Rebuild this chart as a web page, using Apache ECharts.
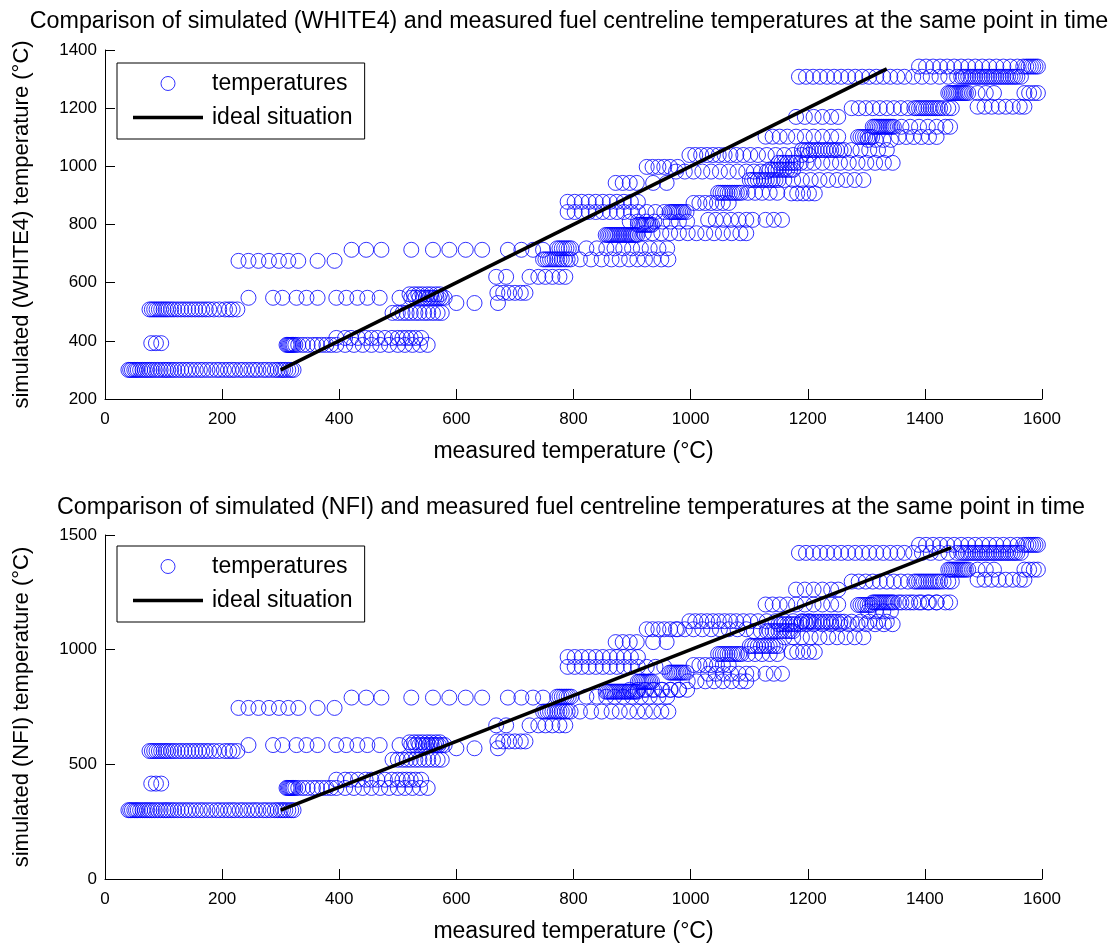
<!DOCTYPE html>
<html lang="en">
<head>
<meta charset="UTF-8">
<title>Simulated vs measured fuel centreline temperatures</title>
<script src="https://cdn.jsdelivr.net/npm/echarts@6/dist/echarts.min.js"></script>
<style>html,body{margin:0;padding:0;background:#fff}</style>
</head>
<body>
<div id="main" style="width:1116px;height:944px"></div>
<script>
// measured temperatures (x), grouped so that each group shares one simulated value
var measuredGroups = [
    [40,43,46,50,53,56,60,64,68,72,76,80,85,90,95,100,104,108,113,118,124,130,136,142,148,155,162,168,175,182,190,196,203,210,216,222,230,236,243,250,256,262,270,276,283,290,295,300,304,308,313,318,322],
    [79,87,96],
    [76,80,84,88,92,96,100,104,108,113,118,124,130,136,142,148,154,160,166,172,178,186,195,205,212,218,226],
    [245,287,303,327,344,363,395,412,431,448,469,503,523,530,537,543,548,553,558,562,566,570,575,580],
    [520,528,535,542,550,557,565,572],
    [491,500,508,515,522,530,537,545,552,560,568,575],
    [310,312,314,316,318,320,322,325,330,338,346,355,362,370,378,386,395,410,425,440,455,470,485,500,512,525,538,551],
    [395,410,420,432,445,455,465,478,490,500,508,515,522,530,540],
    [228,245,262,280,297,313,330,363,392],
    [421,446,472,523,560,588,616,644,688,711,731,748],
    [772,776,780,784,788,792,796,822,840,856,870,885,900,915,930,945,960],
    [748,752,756,760,764,768,772,776,780,785,790,795,811,830,848,865,879,895,909,922,936,950,962],
    [668,685,725,740,752,764,776,786],
    [670,680,690,700,710,718],
    [600,631,671],
    [790,802,814,826,838,850,862,874,886,898,910],
    [790,802,814,826,838,850,862,874,886,898,910,925,940,955],
    [964,967,970,973,976,979,982,985,988,993],
    [1005,1015,1025,1035,1045,1055,1065],
    [872,884,896,908,936,959],
    [925,935,945,955,965,978],
    [975,990,1005,1020,1035,1050,1065,1080,1095],
    [1108,1120,1130],
    [998,1008,1018,1028,1038,1048,1058,1068,1078,1090,1102,1115,1130,1145,1160,1175,1190,1202],
    [1128,1140,1152,1165,1180,1195,1210,1225,1240,1252],
    [1190,1195,1200,1205,1210,1215,1220,1225,1230,1235,1240,1245,1250,1256,1262,1275,1290,1305,1320,1335],
    [1135,1140,1145,1150,1155,1160,1165,1170,1175],
    [1101,1105,1110,1115,1120,1125,1130,1135,1140,1145,1150],
    [1160,1175,1190,1205,1220,1235,1250,1265,1280,1295],
    [1150,1155,1160,1165,1170,1175,1180,1188,1198,1210,1225,1240,1255,1270,1285,1300,1315,1330,1345],
    [1047,1051,1055,1059,1063,1067,1071,1075,1079,1083,1087,1098,1110,1122,1135,1148],
    [1172,1182,1192,1202,1212],
    [1030,1043,1056,1069,1082,1095,1106,1128,1142,1156],
    [896,910,924,938,952,966,980,994],
    [910,913,916,919,922,925,928,931,934],
    [920,935,950,965,980],
    [995,1010,1025,1040,1055,1070,1085,1095],
    [855,858,861,864,867,870,873,876,879,882,885,888,891,894,897,900,903,906,909],
    [1185,1197,1209,1221,1233,1245,1257,1269,1281,1293,1305,1317,1329,1341,1353,1365,1380,1395,1410,1425,1440,1455,1462,1466,1470,1474,1478,1482,1486,1490,1494,1498,1502,1506,1510,1514,1518,1522,1526,1530,1534,1538,1542,1546,1550,1554,1558,1564],
    [1390,1402,1414,1426,1438,1450,1462,1474,1486,1498,1510,1522,1534,1546,1558,1568,1573,1577,1581,1585,1589,1593],
    [1440,1443,1446,1449,1452,1455,1458,1461,1464,1467,1470,1474,1490,1504,1518,1570,1578,1586,1593],
    [1490,1502,1514,1526,1538,1550,1562,1570],
    [1275,1287,1299,1311,1323,1335,1347,1359,1371,1382,1386,1390,1394,1398,1402,1406,1410,1414,1418,1422,1426,1432,1440,1446],
    [1180,1195,1210,1225,1240,1252],
    [1311,1314,1317,1320,1323,1326,1329,1332,1335,1338,1341,1344,1347,1360,1375,1390,1405,1420,1435,1443],
    [1286,1290,1294,1298,1302,1306,1310],
    [1355,1368,1381,1394,1407,1420],
    [1303,1316,1329,1342]
];
// simulated value of each group, WHITE4 model
var white4Levels = [300,392,508,548,560,496,386,410,675,713,718,680,620,565,530,878,843,843,874,943,998,982,982,1039,1102,1056,988,953,953,1012,909,907,816,810,799,770,770,764,1308,1343,1252,1205,1200,1170,1136,1101,1101,1091];
// simulated value of each group, NFI model
var nfiLevels = [300,416,558,584,596,520,397,433,746,791,795,730,670,600,570,968,925,900,933,1033,1089,1089,1081,1124,1197,1122,1081,1016,1054,1111,981,990,895,825,860,825,862,817,1422,1457,1349,1305,1297,1262,1206,1195,1206,1167];
// ends of the ideal (simulated = measured) line
var white4Ideal = [300, 1335];
var nfiIdeal = [300, 1445];

function points(levels) {
    var out = [];
    for (var i = 0; i < measuredGroups.length; i++) {
        for (var j = 0; j < measuredGroups[i].length; j++) {
            out.push([measuredGroups[i][j], levels[i]]);
        }
    }
    return out;
}

var font = '"Liberation Sans", Arial, sans-serif';
var chart = echarts.init(document.getElementById('main'));

function plain(v) { return String(v); }

function xAxis(idx) {
    return {
        type: 'value', gridIndex: idx, min: 0, max: 1600, interval: 200,
        name: 'measured temperature (°C)', nameLocation: 'middle', nameGap: 41,
        nameTextStyle: {fontSize: 23, color: '#000', fontFamily: font},
        axisLine: {show: true, onZero: false, lineStyle: {color: '#000', width: 1}},
        axisTick: {show: true, inside: true, length: 10, lineStyle: {color: '#000'}},
        axisLabel: {color: '#000', fontSize: 17, fontFamily: font, margin: 12, formatter: plain, showMinLabel: true, showMaxLabel: true},
        splitLine: {show: false}
    };
}
function yAxis(idx, name, min, max, step) {
    return {
        type: 'value', gridIndex: idx, min: min, max: max, interval: step,
        name: name, nameLocation: 'middle', nameGap: 72,
        nameTextStyle: {fontSize: 22, color: '#000', fontFamily: font},
        axisLine: {show: true, onZero: false, lineStyle: {color: '#000', width: 1}},
        axisTick: {show: true, inside: true, length: 10, lineStyle: {color: '#000'}},
        axisLabel: {color: '#000', fontSize: 17, fontFamily: font, margin: 8, formatter: plain, showMinLabel: true, showMaxLabel: true},
        splitLine: {show: false}
    };
}
function legend(top) {
    return {
        left: 117, top: top, orient: 'vertical',
        borderColor: '#000', borderWidth: 1, borderRadius: 0,
        padding: [9, 12, 10, 16], itemGap: 11, itemWidth: 70, itemHeight: 14,
        textStyle: {fontSize: 23, color: '#000', fontFamily: font, padding: [0, 0, 0, 4]},
        selectedMode: false,
        data: [
            {name: 'temperatures', icon: 'circle', itemStyle: {color: 'rgba(0,0,0,0)', borderColor: '#0000ff', borderWidth: 1}},
            {name: 'ideal situation', icon: 'path://M0,0L70,0L70,3.5L0,3.5Z', itemStyle: {color: '#000', borderWidth: 0}}
        ]
    };
}
function scatter(idx, levels) {
    return {
        name: 'temperatures', type: 'scatter', xAxisIndex: idx, yAxisIndex: idx,
        data: points(levels), symbol: 'circle', symbolSize: 15, silent: true,
        itemStyle: {color: 'rgba(0,0,0,0)', borderColor: '#0000ff', borderWidth: 1}
    };
}
function ideal(idx, ends) {
    return {
        name: 'ideal situation', type: 'line', xAxisIndex: idx, yAxisIndex: idx,
        data: [[ends[0], ends[0]], [ends[1], ends[1]]], symbol: 'none', showSymbol: false, silent: true, z: 3,
        color: '#000', lineStyle: {color: '#000', width: 3.5}
    };
}

var option = {
    animation: false,
    backgroundColor: '#fff',
    title: [{
        text: 'Comparison of simulated (WHITE4) and measured fuel centreline temperatures at the same point in time',
        left: 569, top: 10, textAlign: 'center', padding: 0,
        textStyle: {fontSize: 23.3, fontWeight: 'normal', color: '#000', fontFamily: font}
    }, {
        text: 'Comparison of simulated (NFI) and measured fuel centreline temperatures at the same point in time',
        left: 571, top: 496, textAlign: 'center', padding: 0,
        textStyle: {fontSize: 23.3, fontWeight: 'normal', color: '#000', fontFamily: font}
    }],
    legend: [legend(63), legend(546)],
    grid: [
        {left: 105, top: 50, width: 937, height: 349},
        {left: 105, top: 535, width: 937, height: 347}
    ],
    xAxis: [xAxis(0), xAxis(1)],
    yAxis: [
        yAxis(0, 'simulated (WHITE4) temperature (°C)', 200, 1400, 200),
        yAxis(1, 'simulated (NFI) temperature (°C)', 0, 1500, 500)
    ],
    series: [
        scatter(0, white4Levels), ideal(0, white4Ideal),
        scatter(1, nfiLevels), ideal(1, nfiIdeal)
    ]
};
chart.setOption(option);
</script>
</body>
</html>
